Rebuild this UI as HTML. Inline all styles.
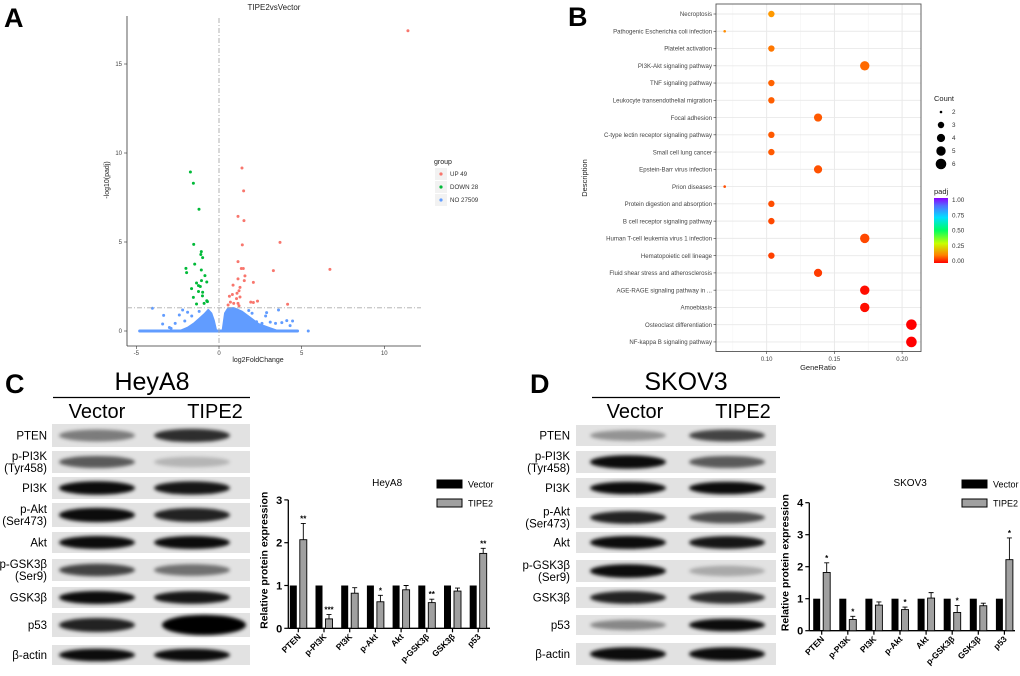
<!DOCTYPE html>
<html><head><meta charset="utf-8"><style>
html,body{margin:0;padding:0;background:#fff;}
svg{display:block;font-family:"Liberation Sans",Arial,sans-serif;}
</style></head><body>
<svg id="fig" width="1020" height="676" viewBox="0 0 1020 676" xmlns="http://www.w3.org/2000/svg">
<defs>
<filter id="blur" x="-30%" y="-100%" width="160%" height="300%"><feGaussianBlur stdDeviation="1.8"/></filter>
<linearGradient id="cbar" x1="0" y1="1" x2="0" y2="0">
<stop offset="0" stop-color="#ff0000"/><stop offset="0.12" stop-color="#ff8000"/><stop offset="0.3" stop-color="#c8ff00"/><stop offset="0.5" stop-color="#00ff60"/><stop offset="0.7" stop-color="#00e0ff"/><stop offset="0.88" stop-color="#5070ff"/><stop offset="1" stop-color="#8a00ff"/>
</linearGradient>
</defs>
</svg>
<script>
// ---------- Panel A data ----------
const upX=[11.43,1.39,1.49,1.15,1.51,3.69,1.41,1.15,1.35,1.47,3.29,6.71,1.57,1.15,1.53,2.08,1.27,0.85,1.21,1.09,0.63,0.81,1.27,1.06,1.92,2.33,2.08,4.15,0.69,0.89,1.15,0.55,1.21];
const upY=[16.87,9.16,7.87,6.44,6.2,4.98,4.84,3.9,3.51,3.51,3.39,3.46,3.1,2.93,2.83,2.73,2.45,2.58,2.26,2.12,1.95,2.05,1.91,1.82,1.62,1.68,1.6,1.5,1.62,1.55,1.55,1.46,1.42];
const downX=[-1.73,-1.55,-1.21,-1.53,-1.07,-1.1,-0.99,-1.47,-2.0,-1.96,-1.07,-0.85,-1.36,-1.06,-0.74,-1.24,-1.66,-1.13,-1.24,-0.99,-1.55,-1.0,-0.74,-0.9,-1.36,-0.7];
const downY=[8.93,8.3,6.84,4.87,4.46,4.3,4.12,3.76,3.52,3.28,3.43,3.11,2.7,2.83,2.75,2.55,2.38,2.5,2.22,2.18,1.89,1.97,1.7,1.55,1.52,1.65];
const noX=[-4.03,-3.35,-3.41,-2.65,-2.2,-2.07,-1.65,2.88,2.82,3.6,3.42,4.1,4.45,5.4,3.8,2.27,2.6,-2.4,-1.9,-1.2,2.0,1.8,3.1,-3.0,-2.9,4.3];
const noY=[1.28,0.88,0.39,0.43,1.18,0.56,0.84,1.03,0.84,1.18,0.43,0.58,0.56,0,0.47,0.52,0.43,0.9,1.05,1.1,1.0,1.15,0.5,0.2,0.15,0.3];
const humpLX=[-2.4,-1.9,-1.5,-1.2,-0.9,-0.65,-0.45,-0.3,-0.15];
const humpLY=[0,0.2,0.45,0.7,0.95,1.2,1.0,0.6,0];
const humpRX=[0.2,0.35,0.55,0.9,1.4,1.9,2.4,3.0,3.6];
const humpRY=[0,1.0,1.3,1.3,1.1,0.75,0.4,0.2,0];
const aXTicks=[-5,0,5,10];
const aYTicks=[0,5,10,15];

// ---------- Panel B data ----------
const bTerms=["Necroptosis","Pathogenic Escherichia coli infection","Platelet activation","PI3K-Akt signaling pathway","TNF signaling pathway","Leukocyte transendothelial migration","Focal adhesion","C-type lectin receptor signaling pathway","Small cell lung cancer","Epstein-Barr virus infection","Prion diseases","Protein digestion and absorption","B cell receptor signaling pathway","Human T-cell leukemia virus 1 infection","Hematopoietic cell lineage","Fluid shear stress and atherosclerosis","AGE-RAGE signaling pathway in ...","Amoebiasis","Osteoclast differentiation","NF-kappa B signaling pathway"];
const bCounts=[3,2,3,5,3,3,4,3,3,4,2,3,3,5,3,4,5,5,6,6];
const bPadj=[0.13,0.12,0.1,0.09,0.085,0.08,0.075,0.075,0.075,0.07,0.065,0.065,0.06,0.06,0.055,0.05,0.01,0.01,0.0,0.0];
const bXTicks=[0.10,0.15,0.20];

// ---------- Panels C/D bar data ----------
const cats=["PTEN","p-PI3K","PI3K","p-Akt","Akt","p-GSK3β","GSK3β","p53"];
const heyVector=[1,1,1,1,1,1,1,1];
const heyTipe=[2.07,0.22,0.82,0.62,0.9,0.6,0.87,1.75];
const heyErr=[0.38,0.1,0.13,0.15,0.1,0.08,0.07,0.12];
const heyStars=["**","***","","*","","**","","**"];
const heyTicks=[0,1,2,3];
const skVector=[1,1,1,1,1,1,1,1];
const skTipe=[1.82,0.35,0.8,0.66,1.02,0.57,0.78,2.22];
const skErr=[0.3,0.1,0.1,0.08,0.17,0.22,0.08,0.68];
const skStars=["*","*","","*","","*","","*"];
const skTicks=[0,1,2,3,4];

const NS="http://www.w3.org/2000/svg";
const svg=document.getElementById('fig');
function el(tag,attrs,parent){const e=document.createElementNS(NS,tag);for(const k in attrs)e.setAttribute(k,attrs[k]);(parent||svg).appendChild(e);return e;}
function tx(str,attrs,parent){const e=el('text',attrs,parent);e.textContent=str;return e;}

// ================= Panel A =================
const gA=el('g',{});


const ax=v=>219+v*16.53, ay=v=>331-v*17.8;
let t=tx('A',{x:4,y:27,'font-size':27,'font-weight':'bold'},gA);


t=tx('TIPE2vsVector',{x:274,y:10,'font-size':8,'text-anchor':'middle',fill:'#222'},gA);


let ln=el('line',{x1:127,y1:16,x2:127,y2:346,stroke:'#333','stroke-width':0.8},gA);


ln=el('line',{x1:127,y1:346,x2:421,y2:346,stroke:'#333','stroke-width':0.8},gA);


aYTicks.forEach(v=>{
  const l=el('line',{x1:124,y1:ay(v),x2:127,y2:ay(v),stroke:'#333','stroke-width':0.6},gA);
  
  
  const s=tx(String(v),{x:122,y:ay(v)+2,'font-size':6,'text-anchor':'end',fill:'#444'},gA);
  
  
});
aXTicks.forEach(v=>{
  const l=el('line',{x1:ax(v),y1:346,x2:ax(v),y2:349,stroke:'#333','stroke-width':0.6},gA);
  
  
  const s=tx(String(v),{x:ax(v),y:355,'font-size':6,'text-anchor':'middle',fill:'#444'},gA);
  
  
});
t=tx('log2FoldChange',{x:258,y:362,'font-size':7,'text-anchor':'middle',fill:'#222'},gA);


t=tx('-log10(padj)',{x:0,y:0,'font-size':7,'text-anchor':'middle',fill:'#222',transform:'translate(109,180) rotate(-90)'},gA);


ln=el('line',{x1:ax(-4.8),y1:ay(0),x2:ax(4.75),y2:ay(0),stroke:'#619CFF','stroke-width':3,'stroke-linecap':'round'},gA);


function hump(xs,ys,name){
  let d='M'+xs.map((x,i)=>ax(x)+','+ay(ys[i])).join(' L')+' Z';
  const p=el('path',{d,fill:'#619CFF',stroke:'#619CFF','stroke-width':1.5,'stroke-linejoin':'round'},gA);
  
  
}
hump(humpLX,humpLY,'no-points-cluster-left');
hump(humpRX,humpRY,'no-points-cluster-right');
noX.forEach((x,i)=>{const c=el('circle',{cx:ax(x),cy:ay(noY[i]),r:1.5,fill:'#619CFF'},gA);
  
  });
upX.forEach((x,i)=>{const c=el('circle',{cx:ax(x),cy:ay(upY[i]),r:1.5,fill:'#F8766D'},gA);
  
  });
downX.forEach((x,i)=>{const c=el('circle',{cx:ax(x),cy:ay(downY[i]),r:1.5,fill:'#00BA38'},gA);
  
  });
ln=el('line',{x1:ax(0),y1:18,x2:ax(0),y2:346,stroke:'#aaa','stroke-width':0.9,'stroke-dasharray':'5,2,1,2'},gA);


ln=el('line',{x1:127,y1:ay(1.3),x2:421,y2:ay(1.3),stroke:'#aaa','stroke-width':0.9,'stroke-dasharray':'5,2,1,2'},gA);


t=tx('group',{x:434,y:164,'font-size':7,fill:'#222'},gA);


[['UP 49','#F8766D'],['DOWN 28','#00BA38'],['NO 27509','#619CFF']].forEach((g,i)=>{
  const y=168+i*13;
  const r=el('rect',{x:435,y:y,width:12,height:12,fill:'#f2f2f2'},gA);
  
  
  const c=el('circle',{cx:441,cy:y+6,r:1.6,fill:g[1]},gA);
  
  
  const s=tx(g[0],{x:450,y:y+8,'font-size':6.2,fill:'#333'},gA);
  
  
});

// ================= Panel B =================
const gB=el('g',{});


const bx=v=>766.7+(v-0.10)*1354, by=i=>14+i*17.26;
t=tx('B',{x:568,y:26,'font-size':27,'font-weight':'bold'},gB);


let rr=el('rect',{x:716,y:4,width:205,height:347.5,fill:'#fff',stroke:'#555','stroke-width':0.9},gB);


[0.075,0.125,0.175].forEach(v=>{const l=el('line',{x1:bx(v),y1:4.5,x2:bx(v),y2:351,stroke:'#f3f3f3','stroke-width':0.6},gB);
  
  });
bXTicks.forEach(v=>{const l=el('line',{x1:bx(v),y1:4.5,x2:bx(v),y2:351,stroke:'#e6e6e6','stroke-width':0.9},gB);
  
  
  const k=el('line',{x1:bx(v),y1:351.5,x2:bx(v),y2:354,stroke:'#333','stroke-width':0.6},gB);
  
  
  const s=tx(v.toFixed(2),{x:bx(v),y:361,'font-size':6,'text-anchor':'middle',fill:'#444'},gB);
  
  });
function padjColor(p){return 'hsl('+Math.round(p*275)+',100%,50%)';}
const rOf=c=>({2:1.3,3:3.2,4:4.1,5:4.7,6:5.3}[c]);
bTerms.forEach((term,i)=>{
  const l=el('line',{x1:716.5,y1:by(i),x2:920.5,y2:by(i),stroke:'#e9e9e9','stroke-width':0.9},gB);
  
  
  const k=el('line',{x1:713.5,y1:by(i),x2:716,y2:by(i),stroke:'#333','stroke-width':0.6},gB);
  
  
  const s=tx(term,{x:712,y:by(i)+2.2,'font-size':6.1,'text-anchor':'end',fill:'#444'},gB);
  
  
});
bTerms.forEach((term,i)=>{
  const c=el('circle',{cx:bx(bCounts[i]/29),cy:by(i),r:rOf(bCounts[i]),fill:padjColor(bPadj[i])},gB);
  
  
});
t=tx('GeneRatio',{x:818,y:370,'font-size':7.5,'text-anchor':'middle',fill:'#222'},gB);


t=tx('Description',{x:0,y:0,'font-size':7.5,'text-anchor':'middle',fill:'#222',transform:'translate(587,178) rotate(-90)'},gB);


t=tx('Count',{x:934,y:101,'font-size':7.5,fill:'#222'},gB);


[2,3,4,5,6].forEach((c,i)=>{
  const y=112+i*13;
  const d=el('circle',{cx:941,cy:y,r:rOf(c),fill:'#000'},gB);
  
  
  const s=tx(String(c),{x:952,y:y+2.2,'font-size':6.3,fill:'#333'},gB);
  
  
});
t=tx('padj',{x:934,y:194,'font-size':7.5,fill:'#222'},gB);


rr=el('rect',{x:934,y:198,width:14,height:65,fill:'url(#cbar)'},gB);


['1.00','0.75','0.50','0.25','0.00'].forEach((s,i)=>{
  const e=tx(s,{x:952,y:202+i*15.3,'font-size':6.3,fill:'#333'},gB);
  
  
});

// ================= Western blots =================
const rowsLab=[["PTEN"],["p-PI3K","(Tyr458)"],["PI3K"],["p-Akt","(Ser473)"],["Akt"],["p-GSK3β","(Ser9)"],["GSK3β"],["p53"],["β-actin"]];
const heyRows=[[424,447],[451,473],[477,499],[503,527],[532,553],[559,581],[587,608],[613,637],[645,665]];
const heyInt=[[0.45,0.8],[0.6,0.2],[0.95,0.9],[0.95,0.85],[0.95,0.95],[0.7,0.5],[0.95,0.9],[0.85,1.0],[0.95,0.95]];
const skRows=[[425,446],[451,473],[478,498],[507,528],[532,553],[560,582],[587,608],[615,635],[643,665]];
const skInt=[[0.35,0.7],[0.95,0.6],[0.95,0.95],[0.85,0.65],[0.95,0.9],[0.95,0.25],[0.85,0.8],[0.4,0.95],[0.95,0.95]];
function blotPanel(name,letter,lx,cell,cellCx,lineX1,lineX2,vecCx,tipCx,bx0,bx1,labX,rows,ints,bandC){
  const g=el('g',{});
  
  
  let t=tx(letter,{x:lx,y:393,'font-size':27,'font-weight':'bold'},g);
  
  
  t=tx(cell,{x:cellCx,y:390,'font-size':25,'text-anchor':'middle'},g);
  
  
  const l=el('line',{x1:lineX1,y1:397.5,x2:lineX2,y2:397.5,stroke:'#000','stroke-width':1.2},g);
  
  
  t=tx('Vector',{x:vecCx,y:418,'font-size':20,'text-anchor':'middle'},g);
  
  
  t=tx('TIPE2',{x:tipCx,y:418,'font-size':20,'text-anchor':'middle'},g);
  
  
  rows.forEach((r,i)=>{
    const h=r[1]-r[0], cy=(r[0]+r[1])/2;
    const bg=el('rect',{x:bx0,y:r[0],width:bx1-bx0,height:h,fill:'#e2e2e2'},g);
    
    
    [0,1].forEach(j=>{
      const it=ints[i][j];
      const big=(rowsLab[i][0]==='p53'&&j===1&&name==='heya8-western-blot');
      const b=el('ellipse',{cx:bandC[j]+(big?12:0),cy:cy,rx:big?42:38,ry:big?h*0.42:h*0.22+it*2,fill:'#000','fill-opacity':it,filter:'url(#blur)'},g);
      
      
    });
    const lab=rowsLab[i];
    lab.forEach((s,k)=>{
      const yy=lab.length===1?cy+4:cy-2+k*12;
      const e=tx(s,{x:labX,y:yy,'font-size':11.5,'text-anchor':'end'},g);
      
      
    });
  });
}
blotPanel('heya8-western-blot','C',5,'HeyA8',152,53,250,97,215,52,250,47,heyRows,heyInt,[97,192]);
blotPanel('skov3-western-blot','D',530,'SKOV3',686,592,780,635,743,576,776,570,skRows,skInt,[628,727]);

// ================= Bar charts =================
function barChart(name,title,axX,axEnd,zeroY,unit,ticks,v0,v1,err,stars,vCx,spacing,legX){
  const g=el('g',{});
  
  
  const yv=v=>zeroY-v*unit;
  const top=yv(ticks[ticks.length-1]);
  let l=el('line',{x1:axX,y1:top,x2:axX,y2:zeroY,stroke:'#000','stroke-width':1.3},g);
  
  
  l=el('line',{x1:axX,y1:zeroY,x2:axEnd,y2:zeroY,stroke:'#000','stroke-width':1.3},g);
  
  
  ticks.forEach(v=>{
    const k=el('line',{x1:axX-4,y1:yv(v),x2:axX,y2:yv(v),stroke:'#000','stroke-width':1.2},g);
    
    
    const s=tx(String(v),{x:axX-6,y:yv(v)+4,'font-size':11,'font-weight':'bold','text-anchor':'end'},g);
    
    
  });
  let t=tx('Relative protein expression',{x:0,y:0,'font-size':10.5,'font-weight':'bold','text-anchor':'middle',transform:'translate('+(axX-21)+','+(zeroY-68)+') rotate(-90)'},g);
  
  
  t=tx(title,{x:(axX+axEnd)/2-2,y:486,'font-size':10,'text-anchor':'middle'},g);
  
  
  const bw=7;
  cats.forEach((c,i)=>{
    const x0=vCx+i*spacing, x1=x0+10;
    const k=el('line',{x1:x0+5,y1:zeroY,x2:x0+5,y2:zeroY+4,stroke:'#000','stroke-width':1.2},g);
    
    
    const a=el('rect',{x:x0-bw/2,y:yv(v0[i]),width:bw,height:v0[i]*unit,fill:'#000'},g);
    
    
    const b=el('rect',{x:x1-bw/2,y:yv(v1[i]),width:bw,height:v1[i]*unit,fill:'#a0a0a0',stroke:'#000','stroke-width':0.9},g);
    
    
    const e=el('path',{d:'M'+x1+','+yv(v1[i])+' V'+yv(v1[i]+err[i])+' M'+(x1-2.5)+','+yv(v1[i]+err[i])+' H'+(x1+2.5),stroke:'#000','stroke-width':0.9,fill:'none'},g);
    
    
    if(stars[i]){const s=tx(stars[i],{x:x1,y:yv(v1[i]+err[i])-2,'font-size':8,'font-weight':'bold','text-anchor':'middle'},g);
      
      }
    const lb=tx(c,{x:0,y:0,'font-size':8.5,'font-weight':'bold','text-anchor':'end',transform:'translate('+(x0+8)+','+(zeroY+9)+') rotate(-45)'},g);
    
    
  });
  [['Vector','#000'],['TIPE2','#a0a0a0']].forEach((s,i)=>{
    const y=484+i*19;
    const r=el('rect',{x:legX,y:y-4,width:25,height:8,fill:s[1],stroke:'#000','stroke-width':1},g);
    
    
    const e=tx(s[0],{x:legX+31,y:y+3.5,'font-size':9},g);
    
    
  });
}
barChart('heya8-bar-chart','HeyA8',288.3,490,628.3,42.8,heyTicks,heyVector,heyTipe,heyErr,heyStars,293.3,25.7,437);
barChart('skov3-bar-chart','SKOV3',809.3,1015,630.7,32,skTicks,skVector,skTipe,skErr,skStars,816.7,26.1,962);
</script>
</body></html>
